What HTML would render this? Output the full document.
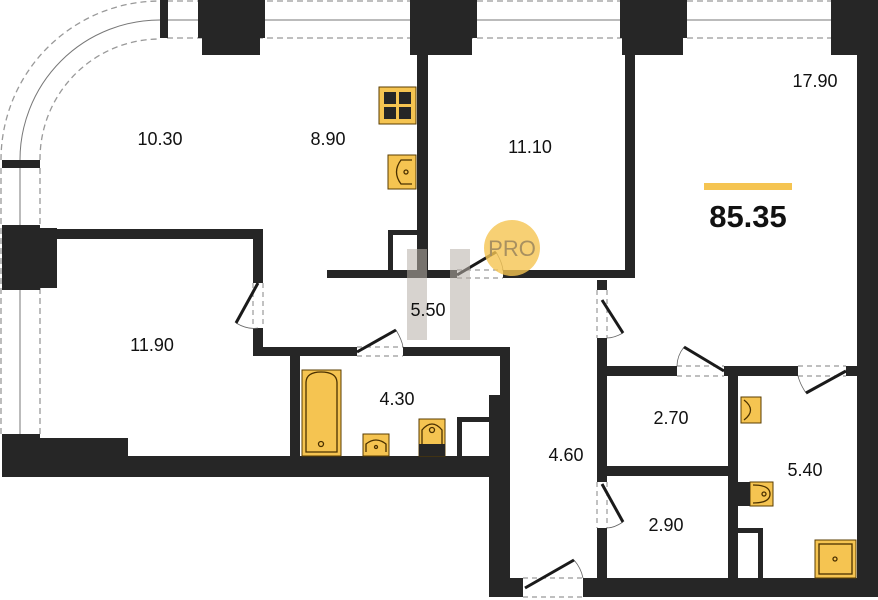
<!DOCTYPE html>
<html><head><meta charset="utf-8"><style>
html,body{margin:0;padding:0;background:#fff;width:878px;height:600px;overflow:hidden}
text{font-family:"Liberation Sans",sans-serif}
</style></head><body>
<svg width="878" height="600" viewBox="0 0 878 600" xmlns="http://www.w3.org/2000/svg">
<g fill="none" stroke="#999" stroke-width="1.3" stroke-dasharray="6,4">
<path d="M1 160 A159 159 0 0 1 160 1"/>
<path d="M40 160 A120 120 0 0 1 160 39"/>
<line x1="167" y1="1" x2="860" y2="1"/>
<line x1="167" y1="38" x2="840" y2="38"/>
<line x1="1" y1="168" x2="1" y2="435"/>
<line x1="40" y1="168" x2="40" y2="435"/>
</g>
<g fill="none" stroke="#777" stroke-width="1">
<path d="M20 162 A140 140 0 0 1 162 20"/>
<line x1="162" y1="20" x2="840" y2="20"/>
<line x1="20" y1="168" x2="20" y2="434"/>
</g>
<g fill="#262626">
<rect x="160" y="0" width="8" height="38"/>
<rect x="198" y="0" width="67" height="38"/><rect x="202" y="38" width="58" height="17"/>
<rect x="410" y="0" width="67" height="38"/><rect x="410" y="38" width="62" height="17"/>
<rect x="620" y="0" width="67" height="38"/><rect x="622" y="38" width="61" height="17"/>
<rect x="831" y="0" width="47" height="55"/>
<rect x="857" y="50" width="21" height="547"/>
<rect x="2" y="160" width="38" height="8"/>
<rect x="2" y="225" width="38" height="65"/><rect x="40" y="228" width="17" height="60"/>
<rect x="57" y="229" width="205" height="10"/>
<rect x="253" y="229" width="10" height="54"/>
<rect x="253" y="328" width="10" height="28"/>
<rect x="253" y="347" width="104" height="9"/>
<rect x="403" y="347" width="107" height="9"/>
<rect x="500" y="347" width="10" height="50"/>
<rect x="489" y="395" width="21" height="202"/>
<rect x="457" y="417" width="32" height="5"/><rect x="457" y="417" width="5" height="40"/>
<rect x="290" y="356" width="10" height="104"/>
<rect x="2" y="434" width="38" height="43"/><rect x="40" y="438" width="88" height="39"/>
<rect x="128" y="456" width="382" height="21"/>
<rect x="417" y="55" width="11" height="223"/>
<rect x="625" y="55" width="10" height="223"/>
<rect x="327" y="270" width="130" height="8"/>
<rect x="503" y="270" width="132" height="8"/>
<rect x="388" y="230" width="30" height="5"/><rect x="388" y="230" width="5" height="40"/>
<rect x="597" y="280" width="10" height="10"/>
<rect x="597" y="338" width="10" height="144"/>
<rect x="597" y="528" width="10" height="67"/>
<rect x="489" y="578" width="34" height="19"/>
<rect x="583" y="578" width="294" height="19"/>
<rect x="607" y="366" width="70" height="10"/>
<rect x="724" y="366" width="74" height="10"/>
<rect x="846" y="366" width="11" height="10"/>
<rect x="728" y="366" width="10" height="214"/>
<rect x="607" y="466" width="121" height="10"/>
<rect x="738" y="528" width="25" height="5"/><rect x="758" y="528" width="5" height="52"/>
</g>
<!-- doors -->
<g fill="none" stroke="#999" stroke-width="1.2" stroke-dasharray="5,4">
<line x1="253" y1="283" x2="253" y2="328"/><line x1="263" y1="283" x2="263" y2="328"/>
<line x1="357" y1="347" x2="403" y2="347"/><line x1="357" y1="356" x2="403" y2="356"/>
<line x1="457" y1="270" x2="503" y2="270"/><line x1="457" y1="278" x2="503" y2="278"/>
<line x1="597" y1="290" x2="597" y2="338"/><line x1="607" y1="290" x2="607" y2="338"/>
<line x1="597" y1="482" x2="597" y2="528"/><line x1="607" y1="482" x2="607" y2="528"/>
<line x1="677" y1="366" x2="724" y2="366"/><line x1="677" y1="376" x2="724" y2="376"/>
<line x1="798" y1="366" x2="846" y2="366"/><line x1="798" y1="376" x2="846" y2="376"/>
<line x1="523" y1="578" x2="583" y2="578"/><line x1="523" y1="597" x2="583" y2="597"/>
</g>
<g fill="none" stroke="#666" stroke-width="0.8">
<path d="M236 323 Q248 330 258 328"/>
<path d="M396 330 Q402 340 403 347"/>
<path d="M496 252 Q502 262 503 270"/>
<path d="M623 333 Q614 338 607 338"/>
<path d="M623 522 Q614 528 607 528"/>
<path d="M684 347 Q677 356 677 366"/>
<path d="M806 393 Q800 384 798 376"/>
<path d="M574 560 Q581 568 583 578"/>
</g>
<g stroke="#1a1a1a" stroke-width="3">
<line x1="258" y1="283" x2="236" y2="323"/>
<line x1="357" y1="352" x2="396" y2="330"/>
<line x1="457" y1="275" x2="496" y2="252"/>
<line x1="602" y1="300" x2="623" y2="333"/>
<line x1="602" y1="484" x2="623" y2="522"/>
<line x1="724" y1="371" x2="684" y2="347"/>
<line x1="846" y1="371" x2="806" y2="393"/>
<line x1="525" y1="588" x2="574" y2="560"/>
</g>
<!-- fixtures -->
<g stroke="#5a3d00" stroke-width="1" fill="#f5c451">
<rect x="379" y="87" width="37" height="37"/>
<rect x="388" y="155" width="28" height="34"/>
<rect x="302" y="370" width="39" height="86"/>
<rect x="363" y="434" width="26" height="22"/>
<rect x="419" y="419" width="26" height="37"/>
<rect x="741" y="397" width="20" height="26"/>
<rect x="750" y="482" width="23" height="24"/>
<rect x="815" y="540" width="41" height="38"/>
</g>
<g fill="#262626">
<rect x="384" y="92" width="12" height="12"/><rect x="399" y="92" width="12" height="12"/>
<rect x="384" y="107" width="12" height="12"/><rect x="399" y="107" width="12" height="12"/>
<rect x="419" y="444" width="26" height="12"/>
<rect x="738" y="482" width="12" height="24"/>
</g>
<g fill="none" stroke="#4a3000" stroke-width="1.3">
<path d="M412 160 H401 Q392 172 401 184 H412"/>
<path d="M306 452 V383 Q306 372 321 372 Q337 372 337 383 V452 Z"/>
<path d="M366 452 V444 Q376 436 386 444 V452"/>
<path d="M422 444 V430 Q432 418 442 430 V444"/>
<path d="M744 400 Q757 410 744 420"/>
<path d="M753 485 Q770 485 770 494 Q770 503 753 503"/>
<rect x="819" y="544" width="33" height="30"/>
<circle cx="406" cy="172" r="2"/><circle cx="321" cy="444" r="2.5"/>
<circle cx="376" cy="447" r="1.5"/><circle cx="432" cy="430" r="2.5"/>
<circle cx="835" cy="559" r="2"/><circle cx="764" cy="494" r="2"/>
</g>
<!-- watermark -->
<g fill="#b8b0a8" opacity="0.55">
<rect x="407" y="249" width="20" height="91"/><rect x="450" y="249" width="20" height="91"/>
</g>
<circle cx="512" cy="248" r="28" fill="#f5c451" opacity="0.8"/>
<text x="512" y="256" text-anchor="middle" font-size="22" fill="#a89060">PRO</text>
<rect x="704" y="183" width="88" height="7" fill="#f5c451"/>
<text x="748" y="227" text-anchor="middle" font-size="31" font-weight="bold" fill="#111">85.35</text>
<g font-size="18" fill="#111" text-anchor="middle">
<text x="160" y="145">10.30</text>
<text x="328" y="145">8.90</text>
<text x="530" y="153">11.10</text>
<text x="815" y="87">17.90</text>
<text x="152" y="351">11.90</text>
<text x="428" y="316">5.50</text>
<text x="397" y="405">4.30</text>
<text x="566" y="461">4.60</text>
<text x="671" y="424">2.70</text>
<text x="666" y="531">2.90</text>
<text x="805" y="476">5.40</text>
</g>
</svg>
</body></html>
